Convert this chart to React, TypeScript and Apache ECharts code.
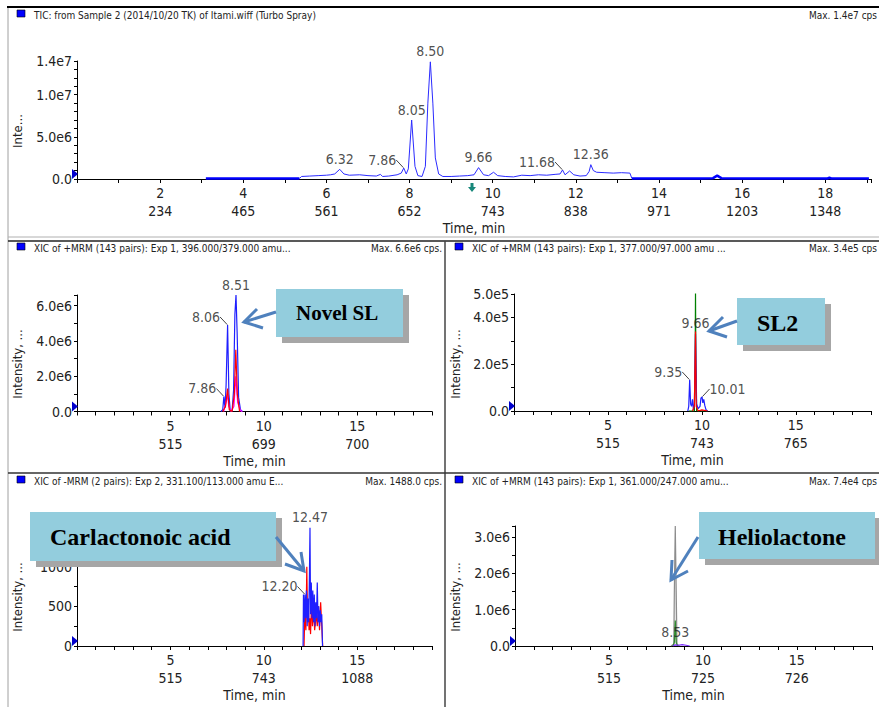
import React, { useEffect, useRef } from 'react';
import * as echarts from 'echarts';

const NARROW = '"Liberation Sans Narrow", "Arial Narrow", "DejaVu Sans Condensed", "Liberation Sans", sans-serif';
const SERIF = '"Liberation Serif", "Times New Roman", serif';

// ---------- TIC panel ----------
const ticMinutes = [2, 4, 6, 8, 10, 12, 14, 16, 18];
const ticScans = [234, 465, 561, 652, 743, 838, 971, 1203, 1348];
const ticYLabels = [0, 5e6, 1e7, 1.4e7];
const ticFlatEarly: [number, number][] = [[3.1, 5e4], [3.5, 7e4], [4.0, 5e4], [4.5, 6e4], [5.0, 5e4], [5.35, 5e4]];
const ticMain: [number, number][] = [
  [5.35, 5e4], [5.4, 3e5], [5.6, 3.5e5], [5.8, 4e5], [6.0, 4.5e5], [6.1, 5e5], [6.2, 6e5], [6.32, 1.15e6], [6.42, 6e5],
  [6.55, 4.5e5], [6.8, 5e5], [7.0, 4e5], [7.2, 3.5e5], [7.3, 5.5e5], [7.35, 3e5], [7.5, 3.5e5], [7.7, 5e5], [7.8, 7e5],
  [7.86, 1.3e6], [7.92, 6e5], [7.97, 1.2e6], [8.05, 7.0e6], [8.13, 1.5e6], [8.2, 4e5], [8.3, 3e5], [8.38, 1.5e6],
  [8.44, 9.0e6], [8.5, 1.39e7], [8.56, 9.0e6], [8.62, 2.5e6], [8.7, 6e5], [8.8, 3e5], [9.0, 3e5], [9.2, 3.5e5],
  [9.4, 4e5], [9.55, 5e5], [9.66, 1.35e6], [9.78, 5e5], [9.9, 4e5], [10.02, 8e5], [10.12, 4e5], [10.3, 3e5],
  [10.5, 2.5e5], [10.7, 4.5e5], [10.9, 4e5], [11.1, 5e5], [11.3, 4.5e5], [11.5, 5.5e5], [11.62, 6e5], [11.68, 1.07e6],
  [11.74, 5e5], [11.85, 9.5e5], [11.95, 5e5], [12.1, 3.5e5], [12.25, 4e5], [12.32, 9e5], [12.36, 1.7e6], [12.42, 1.0e6],
  [12.5, 8e5], [12.7, 7.5e5], [12.9, 7e5], [13.1, 7.5e5], [13.3, 7e5], [13.35, 5e4],
];
const ticFlatLate: [number, number][] = [
  [13.35, 5e4], [14.0, 5e4], [15.0, 5e4], [15.3, 1e5], [15.4, 4e5], [15.5, 1e5], [16.0, 5e4], [17.0, 5e4],
  [18.05, 5e4], [18.1, 1.5e5], [18.15, 5e4], [19.05, 5e4],
];
const ticPeaksTop: [number, number][] = [[6.32, 1.15e6], [8.05, 7.0e6], [8.5, 1.39e7], [9.66, 1.35e6], [12.36, 1.7e6]];
const ticPeaksLeft: [number, number][] = [[7.86, 1.3e6], [11.68, 1.07e6]];

// ---------- Novel SL panel ----------
const novelMinutes = [5, 10, 15];
const novelScans = [515, 699, 700];
const novelYLabels = [0, 2e6, 4e6, 6e6];
const novelBlue: [number, number][] = [
  [7.7, 0], [7.8, 1e5], [7.86, 8.5e5], [7.92, 2e5], [7.98, 1.5e6], [8.06, 4.9e6], [8.13, 1.0e6], [8.2, 5e4],
  [8.3, 2e4], [8.38, 1.2e6], [8.45, 5.5e6], [8.51, 6.6e6], [8.57, 4.5e6], [8.65, 8e5], [8.75, 1e5], [8.85, 0],
];
const novelRed: [number, number][] = [
  [7.8, 0], [7.95, 3e5], [8.06, 1.3e6], [8.15, 1e5], [8.3, 0], [8.42, 1.0e6], [8.5, 3.5e6], [8.58, 1.0e6], [8.7, 0],
];
const novelMagenta: [number, number][] = [
  [7.85, 0], [8.0, 6e5], [8.06, 1.0e6], [8.12, 3e5], [8.25, 0], [8.4, 3e5], [8.5, 2.0e6], [8.6, 5e5], [8.75, 5e4], [8.85, 0],
];
const novelPeaksTop: [number, number][] = [[8.51, 6.6e6]];
const novelPeaksLeft: [number, number][] = [[8.06, 4.9e6], [7.86, 8.5e5]];

// ---------- SL2 panel ----------
const sl2Minutes = [5, 10, 15];
const sl2Scans = [515, 743, 765];
const sl2YLabels = [0, 2e5, 4e5, 5e5];
const sl2Green: [number, number][] = [
  [9.3, 0], [9.6, 0], [9.64, 2e5], [9.66, 5.1e5], [9.68, 2e5], [9.72, 0], [10.3, 0],
];
const sl2Blue: [number, number][] = [
  [9.25, 0], [9.3, 2e4], [9.35, 1.33e5], [9.4, 3e4], [9.45, 2e4], [9.5, 5e4], [9.55, 5e3], [9.6, 3e4], [9.66, 3.3e5],
  [9.72, 3e4], [9.8, 1e4], [9.9, 2e4], [9.95, 5.5e4], [10.01, 6e4], [10.05, 3.5e4], [10.1, 5e4], [10.15, 2.5e4],
  [10.22, 5e3], [10.3, 0],
];
const sl2Red: [number, number][] = [
  [9.5, 0], [9.6, 2e4], [9.66, 3.4e5], [9.7, 2e4], [9.8, 0], [10.0, 5e3], [10.3, 0],
];
const sl2PeaksTop: [number, number][] = [[9.66, 3.3e5]];
const sl2PeaksLeft: [number, number][] = [[9.35, 1.33e5]];
const sl2PeaksRight: [number, number][] = [[10.01, 6e4]];

// ---------- Carlactonoic acid panel ----------
const claMinutes = [5, 10, 15];
const claScans = [515, 743, 1088];
const claYLabels = [0, 500, 1000];
const claBlue: [number, number][] = [
  [12.1, 0], [12.12, 650], [12.16, 300], [12.2, 650], [12.24, 350], [12.28, 700], [12.32, 250], [12.36, 600],
  [12.4, 300], [12.44, 900], [12.47, 1490], [12.5, 400], [12.54, 800], [12.58, 350], [12.62, 700], [12.66, 300],
  [12.7, 650], [12.74, 250], [12.78, 550], [12.82, 350], [12.86, 800], [12.9, 300], [12.94, 500], [12.98, 250],
  [13.02, 450], [13.06, 300], [13.1, 400], [13.14, 0],
];
const claRed: [number, number][] = [
  [12.15, 0], [12.2, 450], [12.25, 200], [12.3, 1000], [12.34, 300], [12.38, 550], [12.42, 200], [12.46, 350],
  [12.5, 150], [12.56, 600], [12.6, 250], [12.66, 450], [12.72, 200], [12.8, 400], [12.86, 250], [12.92, 500],
  [12.98, 200], [13.04, 550], [13.1, 250], [13.15, 0],
];
const claPeaksTop: [number, number][] = [[12.47, 1490]];
const claPeaksLeft: [number, number][] = [[12.2, 650]];

// ---------- Heliolactone panel ----------
const helioMinutes = [5, 10, 15];
const helioScans = [515, 725, 726];
const helioYLabels = [0, 1e6, 2e6, 3e6];
const helioGray: [number, number][] = [
  [8.3, 0], [8.45, 5e4], [8.48, 1.5e6], [8.53, 3.3e6], [8.58, 1.5e6], [8.62, 5e4], [8.75, 0],
];
const helioGreen: [number, number][] = [[8.4, 0], [8.48, 1e5], [8.53, 7e5], [8.58, 1e5], [8.65, 0]];
const helioPurple: [number, number][] = [[8.4, 0], [8.5, 3e4], [8.7, 2e4], [8.9, 4e4], [9.1, 2e4], [9.3, 0]];
const helioPeaksTop: [number, number][] = [[8.53, 1e5]];

// ---------- layout ----------
const grids = [
  { left: 77, top: 61, width: 794, height: 118 },
  { left: 77, top: 295, width: 355, height: 116.5 },
  { left: 514, top: 294, width: 357, height: 117 },
  { left: 77, top: 527, width: 355, height: 119 },
  { left: 515, top: 526, width: 357, height: 120 },
];

const headers = [
  { x: 17, y: 10, text: 'TIC: from Sample 2 (2014/10/20 TK) of Itami.wiff (Turbo Spray)', maxRight: 877, max: 'Max. 1.4e7 cps' },
  { x: 17, y: 243, text: 'XIC of +MRM (143 pairs): Exp 1, 396.000/379.000 amu...', maxRight: 442, max: 'Max. 6.6e6 cps.' },
  { x: 455, y: 243, text: 'XIC of +MRM (143 pairs): Exp 1, 377.000/97.000 amu ...', maxRight: 877, max: 'Max. 3.4e5 cps' },
  { x: 17, y: 476, text: 'XIC of -MRM (2 pairs): Exp 2, 331.100/113.000 amu E...', maxRight: 442, max: 'Max. 1488.0 cps.' },
  { x: 455, y: 476, text: 'XIC of +MRM (143 pairs): Exp 1, 361.000/247.000 amu...', maxRight: 877, max: 'Max. 7.4e4 cps' },
];

const yNames = [
  { x: 17, y: 131, text: 'Inte...' },
  { x: 17, y: 364, text: 'Intensity, ...' },
  { x: 455, y: 364, text: 'Intensity, ...' },
  { x: 17, y: 597, text: 'Intensity, ...' },
  { x: 455, y: 597, text: 'Intensity, ...' },
];

const callouts = [
  { text: 'Novel SL', x: 276, y: 289, w: 127, h: 48, size: 21, tx: 296, ty: 313,
    shaft: [[276, 312], [244, 322]], head: [[257, 309], [244, 322], [263, 328]] },
  { text: 'SL2', x: 737, y: 298, w: 88, h: 47, size: 24, tx: 757, ty: 323,
    shaft: [[737, 321], [709, 331]], head: [[723, 317], [709, 331], [727, 337]] },
  { text: 'Carlactonoic acid', x: 30, y: 512, w: 246, h: 49, size: 24, tx: 50, ty: 537,
    shaft: [[276, 537], [304, 571]], head: [[285, 564], [304, 571], [301, 552]] },
  { text: 'Heliolactone', x: 699, y: 512, w: 176, h: 47, size: 24, tx: 718, ty: 537,
    shaft: [[698, 537], [671, 580]], head: [[672, 560], [671, 580], [688, 571]] },
];

const fmtExp = (v: number) => (v === 0 ? '0.0' : v.toExponential(1).replace('e+', 'e'));

function xAxisOf(idx: number, max: number, minutes: number[], scans: number[]) {
  return {
    type: 'value', gridIndex: idx, min: 0, max, interval: 1,
    axisLine: { show: true, onZero: false, lineStyle: { color: '#000', width: 1 } },
    axisTick: { show: true, length: 4, lineStyle: { color: '#000' } },
    splitLine: { show: false },
    axisLabel: {
      margin: 5, fontSize: 14, lineHeight: 18, fontFamily: NARROW, color: '#222',
      formatter: (v: number) => {
        const r = Math.round(v);
        const i = minutes.indexOf(r);
        if (i < 0 || Math.abs(v - r) > 1e-6) return '';
        return `${minutes[i]}\n${scans[i]}`;
      },
    },
    name: 'Time, min', nameLocation: 'middle', nameGap: 42,
    nameTextStyle: { fontSize: 14, fontFamily: NARROW, color: '#222' },
  };
}

function yAxisOf(idx: number, max: number, interval: number, labels: number[], exp: boolean) {
  return {
    type: 'value', gridIndex: idx, min: 0, max, interval,
    axisLine: { show: true, lineStyle: { color: '#000', width: 1 } },
    axisTick: { show: true, length: 3, lineStyle: { color: '#000' } },
    splitLine: { show: false },
    axisLabel: {
      margin: 5, fontSize: 14, fontFamily: NARROW, color: '#222',
      formatter: (v: number) => {
        const hit = labels.find((l) => Math.abs(l - v) < interval * 1e-3);
        if (hit === undefined) return '';
        return exp ? fmtExp(hit) : String(hit);
      },
    },
  };
}

function trace(data: [number, number][], idx: number, color: string, width = 1, area?: string) {
  return {
    type: 'line', xAxisIndex: idx, yAxisIndex: idx, data, showSymbol: false, symbol: 'none', silent: true,
    lineStyle: { color, width }, itemStyle: { color }, z: 3,
    ...(area ? { areaStyle: { color: area } } : {}),
  };
}

function peakLabels(data: [number, number][], idx: number, position: string, leader: boolean) {
  return {
    type: 'scatter', xAxisIndex: idx, yAxisIndex: idx, data, symbolSize: 1, silent: true, z: 5,
    itemStyle: { color: 'rgba(0,0,0,0)' },
    label: {
      show: true, position, distance: leader ? 7 : 3, fontSize: 14, fontFamily: NARROW, color: '#222',
      formatter: (p: any) => p.value[0].toFixed(2),
    },
    ...(leader
      ? { labelLayout: { dy: -8 }, labelLine: { show: true, length2: 0, lineStyle: { color: '#444', width: 1 } } }
      : {}),
  };
}

function tri(x: number, b: number) {
  return {
    type: 'polygon', z: 50, shape: { points: [[x - 5, b - 10], [x + 1, b - 5], [x - 5, b]] },
    style: { fill: '#0000CD' },
  };
}

export default function App() {
  const ref = useRef<HTMLDivElement>(null);
  useEffect(() => {
    if (!ref.current) return;
    const chart = echarts.init(ref.current, undefined, { renderer: 'svg' });

    const graphic: any[] = [];
    const line = (x1: number, y1: number, x2: number, y2: number, stroke: string, lw: number) =>
      graphic.push({ type: 'line', z: 40, shape: { x1, y1, x2, y2 }, style: { stroke, lineWidth: lw } });
    line(7, 7, 879, 7, '#000', 2);
    line(8, 8, 8, 707, '#a0a0a0', 1);
    line(8, 237, 879, 237, '#b0b0b0', 1);
    line(8, 241, 879, 241, '#222', 1.5);
    line(445, 241, 445, 707, '#444', 1.5);
    line(8, 473, 879, 473, '#333', 1.5);

    headers.forEach((h) => {
      graphic.push({ type: 'rect', z: 50, shape: { x: h.x, y: h.y, width: 8, height: 7 }, style: { fill: '#0000FF', stroke: '#000', lineWidth: 0.6 } });
      graphic.push({ type: 'text', z: 50, x: h.x + 17, y: h.y + 5, style: { text: h.text, font: `10px ${NARROW}`, fill: '#222', verticalAlign: 'middle', align: 'left' } });
      graphic.push({ type: 'text', z: 50, x: h.maxRight, y: h.y + 5, style: { text: h.max, font: `10px ${NARROW}`, fill: '#222', verticalAlign: 'middle', align: 'right' } });
    });

    yNames.forEach((n) => {
      graphic.push({ type: 'text', z: 50, x: n.x, y: n.y, rotation: Math.PI / 2, style: { text: n.text, font: `13px ${NARROW}`, fill: '#222', align: 'center', verticalAlign: 'middle' } });
    });

    grids.forEach((g) => graphic.push(tri(g.left, g.top + g.height)));

    graphic.push({ type: 'polygon', z: 50, shape: { points: [[470.5, 183], [473.5, 183], [473.5, 187], [476, 187], [472, 192], [468, 187], [470.5, 187]] }, style: { fill: '#17877a' } });

    callouts.forEach((c) => {
      graphic.push({ type: 'rect', z: 60, shape: { x: c.x + 6, y: c.y + 6, width: c.w, height: c.h }, style: { fill: '#a6a6a6' } });
      graphic.push({ type: 'rect', z: 61, shape: { x: c.x, y: c.y, width: c.w, height: c.h }, style: { fill: '#93cddd' } });
      graphic.push({ type: 'text', z: 62, x: c.tx, y: c.ty, style: { text: c.text, font: `bold ${c.size}px ${SERIF}`, fill: '#000', align: 'left', verticalAlign: 'middle' } });
      graphic.push({ type: 'polyline', z: 62, shape: { points: c.shaft }, style: { stroke: '#4f81bd', lineWidth: 3, fill: null } });
      graphic.push({ type: 'polyline', z: 62, shape: { points: c.head }, style: { stroke: '#4f81bd', lineWidth: 3, fill: null } });
    });

    const option: any = {
      animation: false,
      backgroundColor: '#fff',
      grid: grids.map((g) => ({ ...g, containLabel: false })),
      xAxis: [
        xAxisOf(0, 19.1, ticMinutes, ticScans),
        xAxisOf(1, 19, novelMinutes, novelScans),
        xAxisOf(2, 19, sl2Minutes, sl2Scans),
        xAxisOf(3, 19, claMinutes, claScans),
        xAxisOf(4, 19, helioMinutes, helioScans),
      ],
      yAxis: [
        yAxisOf(0, 1.4e7, 1e6, ticYLabels, true),
        yAxisOf(1, 6.6e6, 1e6, novelYLabels, true),
        yAxisOf(2, 5e5, 1e5, sl2YLabels, true),
        yAxisOf(3, 1500, 250, claYLabels, false),
        yAxisOf(4, 3.3e6, 5e5, helioYLabels, true),
      ],
      series: [
        trace(ticFlatEarly, 0, '#0000ff', 2.5),
        trace(ticMain, 0, '#2b2bff', 1),
        trace(ticFlatLate, 0, '#0000ff', 2.5),
        peakLabels(ticPeaksTop, 0, 'top', false),
        peakLabels(ticPeaksLeft, 0, 'left', true),

        trace(novelBlue, 1, '#1f1fff', 1.2),
        trace(novelMagenta, 1, '#ff00ff', 1.2),
        trace(novelRed, 1, '#ff0000', 1.2),
        peakLabels(novelPeaksTop, 1, 'top', false),
        peakLabels(novelPeaksLeft, 1, 'left', true),

        trace(sl2Green, 2, '#008000', 1.2),
        trace(sl2Blue, 2, '#1f1fff', 1.2),
        trace(sl2Red, 2, '#ff0000', 1.2),
        peakLabels(sl2PeaksTop, 2, 'top', false),
        peakLabels(sl2PeaksLeft, 2, 'left', true),
        peakLabels(sl2PeaksRight, 2, 'right', true),

        trace(claRed, 3, '#ff0000', 1.2),
        trace(claBlue, 3, '#1f1fff', 1.2),
        peakLabels(claPeaksTop, 3, 'top', false),
        peakLabels(claPeaksLeft, 3, 'left', true),

        trace(helioGray, 4, '#8c8c8c', 1.2, '#d9d9d9'),
        trace(helioGreen, 4, '#2e8b2e', 1.2),
        trace(helioPurple, 4, '#7b2cff', 1.2),
        peakLabels(helioPeaksTop, 4, 'top', false),
      ],
      graphic,
    };
    chart.setOption(option);
    return () => chart.dispose();
  }, []);

  return <div ref={ref} style={{ position: 'fixed', left: 0, top: 0, width: 879, height: 707, background: '#fff' }} />;
}
